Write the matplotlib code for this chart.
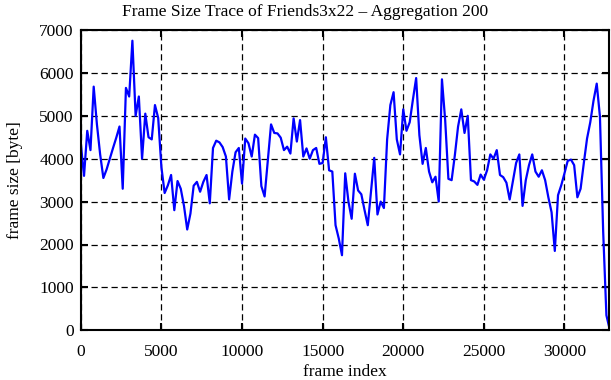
import numpy as np
import matplotlib
matplotlib.use('Agg')
from matplotlib import pyplot as plt

# frame size per 200-frame group
step = 200
frame_size = [
    4350, 3600, 4650, 4200, 5680, 4800, 4100, 3550, 3750, 4000,
    4250, 4490, 4750, 3300, 5650, 5450, 6750, 5000, 5450, 4000,
    5050, 4500, 4450, 5250, 4950, 3800, 3200, 3380, 3620, 2800,
    3480, 3300, 2900, 2350, 2720, 3370, 3460, 3230, 3460, 3620,
    2960, 4250, 4420, 4380, 4270, 4050, 3050, 3700, 4150, 4250,
    3420, 4470, 4360, 4050, 4560, 4480, 3360, 3120, 3950, 4800,
    4600, 4590, 4490, 4200, 4280, 4120, 4940, 4400, 4900, 4050,
    4240, 4000, 4200, 4250, 3880, 3900, 4500, 3730, 3700, 2450,
    2140, 1750, 3660, 3000, 2600, 3650, 3260, 3170, 2800, 2450,
    3230, 4020, 2700, 3000, 2850, 4450, 5250, 5550, 4450, 4100,
    5150, 4650, 4850, 5380, 5880, 4550, 3880, 4250, 3700, 3450,
    3580, 3000, 5850, 4900, 3530, 3500, 4080, 4750, 5150, 4600,
    5000, 3500, 3470, 3390, 3630, 3510, 3730, 4100, 4000, 4200,
    3620, 3570, 3440, 3050, 3480, 3900, 4100, 2900, 3500, 3850,
    4100, 3700, 3580, 3730, 3500, 3100, 2750, 1850, 3150, 3380,
    3660, 3950, 3980, 3850, 3100, 3300, 3900, 4470, 4850, 5350,
    5750, 4980, 2300, 350, 30,
]
frame_index = np.arange(len(frame_size)) * step

x_ticks = [0, 5000, 10000, 15000, 20000, 25000, 30000]
y_ticks = [0, 1000, 2000, 3000, 4000, 5000, 6000, 7000]

plt.rcParams['font.family'] = ['Liberation Serif']

fig = plt.figure(figsize=(6.11, 3.80), dpi=100)
ax = fig.add_axes([80.8 / 611, 1 - 330.3 / 380, (609.3 - 80.8) / 611, 300.3 / 380])

ax.plot(frame_index, frame_size, color='#0000ff', linewidth=1.6)

ax.set_xlim(0, 32780)
ax.set_ylim(0, 7000)
ax.set_xticks(x_ticks)
ax.set_yticks(y_ticks)
ax.grid(True, color='black', linestyle=(0, (5, 3)), linewidth=0.9)
ax.tick_params(direction='in', length=5, width=1.5, top=True, right=True,
               labelsize=12.5)
ax.tick_params(axis='x', pad=10)
ax.tick_params(axis='y', pad=5)
for s in ax.spines.values():
    s.set_linewidth(1.5)

# title is centred on the whole canvas, as gnuplot does it
fig.text(0.5, 1 - 12 / 380, 'Frame Size Trace of Friends3x22 \u2013 Aggregation 200',
         fontsize=12.5, ha='center', va='center')
ax.set_xlabel('frame index', fontsize=12.5, labelpad=3)
ax.set_ylabel('frame size [byte]', fontsize=12.5, labelpad=12)

fig.savefig('out.png', dpi=100)
